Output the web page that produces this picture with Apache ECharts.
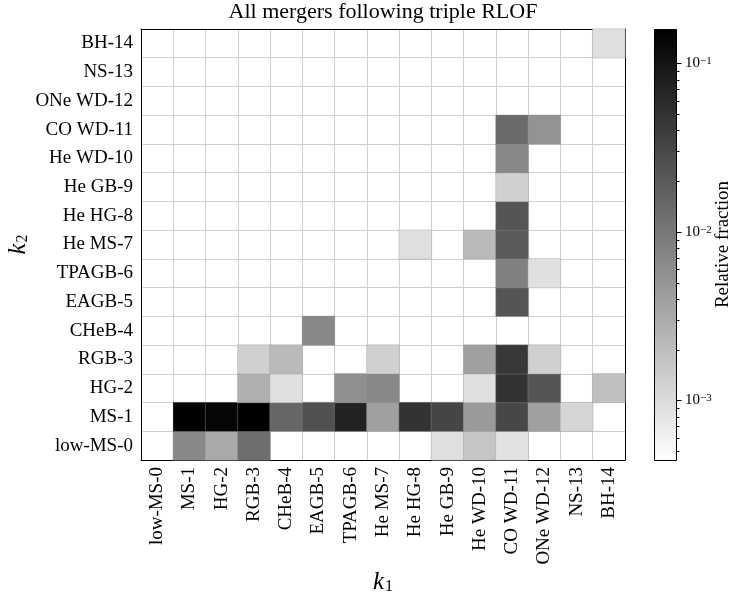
<!DOCTYPE html>
<html>
<head>
<meta charset="utf-8">
<script src="https://cdn.jsdelivr.net/npm/echarts@6/dist/echarts.min.js"></script>
<style>html,body{margin:0;padding:0;background:#fff;}#c{width:731px;height:599px;}</style>
</head>
<body>
<div id="c"></div>
<script>
const k1Labels = ['low-MS-0','MS-1','HG-2','RGB-3','CHeB-4','EAGB-5','TPAGB-6','He MS-7','He HG-8','He GB-9','He WD-10','CO WD-11','ONe WD-12','NS-13','BH-14'];
const k2Labels = ['low-MS-0','MS-1','HG-2','RGB-3','CHeB-4','EAGB-5','TPAGB-6','He MS-7','He HG-8','He GB-9','He WD-10','CO WD-11','ONe WD-12','NS-13','BH-14'];

// Relative fraction, one array per k2 row, indexed by k1 (0 = no mergers)
const row_lowMS0 = [0, 0.0069, 0.0032, 0.0126, 0, 0, 0, 0, 0, 0.00091, 0.0017, 0.00087, 0, 0, 0];
const row_MS1    = [0, 0.158, 0.140, 0.156, 0.0152, 0.0252, 0.0728, 0.0040, 0.0491, 0.0325, 0.0046, 0.0310, 0.0040, 0.00117, 0];
const row_HG2    = [0, 0, 0, 0.00275, 0.00091, 0, 0.00575, 0.0069, 0, 0, 0.00091, 0.0491, 0.0225, 0, 0.0019];
const row_RGB3   = [0, 0, 0, 0.00132, 0.0022, 0, 0, 0.00132, 0, 0, 0.0040, 0.0439, 0.00132, 0, 0];
const row_CHeB4  = [0, 0, 0, 0, 0, 0.0069, 0, 0, 0, 0, 0, 0, 0, 0, 0];
const row_EAGB5  = [0, 0, 0, 0, 0, 0, 0, 0, 0, 0, 0, 0.0225, 0, 0, 0];
const row_TPAGB6 = [0, 0, 0, 0, 0, 0, 0, 0, 0, 0, 0, 0.0083, 0.00091, 0, 0];
const row_HeMS7  = [0, 0, 0, 0, 0, 0, 0, 0, 0.00091, 0, 0.0022, 0.0200, 0, 0, 0];
const row_HeHG8  = [0, 0, 0, 0, 0, 0, 0, 0, 0, 0, 0, 0.0225, 0, 0, 0];
const row_HeGB9  = [0, 0, 0, 0, 0, 0, 0, 0, 0, 0, 0, 0.00132, 0, 0, 0];
const row_HeWD10 = [0, 0, 0, 0, 0, 0, 0, 0, 0, 0, 0, 0.0069, 0, 0, 0];
const row_COWD11 = [0, 0, 0, 0, 0, 0, 0, 0, 0, 0, 0, 0.0138, 0.0054, 0, 0];
const row_ONeWD12= [0, 0, 0, 0, 0, 0, 0, 0, 0, 0, 0, 0, 0, 0, 0];
const row_NS13   = [0, 0, 0, 0, 0, 0, 0, 0, 0, 0, 0, 0, 0, 0, 0];
const row_BH14   = [0, 0, 0, 0, 0, 0, 0, 0, 0, 0, 0, 0, 0, 0, 0.00091];

const colorMin = 4.42e-4, colorMax = 0.160;
const majorTickExps = [-3, -2, -1];
const minorMultipliers = [2, 3, 4, 5, 6, 7, 8, 9];
const minorDecades = [-4, -3, -2, -1];

const rows = [row_lowMS0,row_MS1,row_HG2,row_RGB3,row_CHeB4,row_EAGB5,row_TPAGB6,row_HeMS7,row_HeHG8,row_HeGB9,row_HeWD10,row_COWD11,row_ONeWD12,row_NS13,row_BH14];
const data = [];
rows.forEach((r, j) => r.forEach((v, i) => { if (v > 0) data.push([i, j, Math.log10(v), v]); }));

const lmin = Math.log10(colorMin), lmax = Math.log10(colorMax);
const tickData = majorTickExps.map(e => [e, 5]);
minorDecades.forEach(d => minorMultipliers.forEach(m => {
  const l = Math.log10(m * Math.pow(10, d));
  if (l > lmin && l < lmax) tickData.push([l, 3]);
}));

const FF = 'Liberation Serif';
const GL = 141, GT = 29, GW = 484, GH = 431;
const CBL = 654, CBW = 22;

const nameRich = {
  k: {fontFamily: FF, fontStyle: 'italic', fontSize: 25, verticalAlign: 'top', lineHeight: 25, color: '#000'},
  sub: {fontFamily: FF, fontSize: 16, verticalAlign: 'bottom', lineHeight: 16, padding: [14, 0, 0, 1], color: '#000'}
};

const chart = echarts.init(document.getElementById('c'), null, {renderer: 'canvas'});
chart.setOption({
  backgroundColor: '#fff',
  animation: false,
  title: {
    text: 'All mergers following triple RLOF',
    left: GL + GW / 2, top: 1, textAlign: 'center', padding: 0,
    textStyle: {fontFamily: FF, fontSize: 22, fontWeight: 'normal', color: '#000'}
  },
  grid: [
    {left: GL, top: GT, width: GW, height: GH, outerBoundsMode: 'none', containLabel: false},
    {left: CBL, top: GT, width: CBW, height: GH, outerBoundsMode: 'none', containLabel: false}
  ],
  visualMap: {
    show: false, type: 'continuous', min: lmin, max: lmax, dimension: 2, seriesIndex: 0,
    inRange: {color: ['#ffffff', '#000000']}
  },
  xAxis: [
    {
      gridIndex: 0, type: 'category', data: k1Labels, position: 'bottom',
      axisLine: {lineStyle: {color: '#000', width: 1}},
      axisTick: {alignWithLabel: true, interval: 0, length: 5, lineStyle: {color: '#000'}},
      axisLabel: {rotate: 90, interval: 0, margin: 7, fontFamily: FF, fontSize: 19, color: '#000'},
      splitLine: {show: true, interval: 0, lineStyle: {color: '#cfcfcf', width: 1}},
      name: '{k|k}{sub|1}', nameLocation: 'middle', nameGap: 110, nameMoveOverlap: false,
      nameTextStyle: {rich: nameRich}
    },
    {
      gridIndex: 0, type: 'category', data: k1Labels, position: 'top',
      axisLine: {lineStyle: {color: '#000', width: 1}},
      axisTick: {alignWithLabel: true, interval: 0, length: 5, lineStyle: {color: '#000'}},
      axisLabel: {show: false}, splitLine: {show: false}
    },
    {gridIndex: 1, type: 'value', show: false, min: 0, max: 1}
  ],
  yAxis: [
    {
      gridIndex: 0, type: 'category', data: k2Labels, position: 'left',
      axisLine: {lineStyle: {color: '#000', width: 1}},
      axisTick: {alignWithLabel: true, interval: 0, length: 5, lineStyle: {color: '#000'}},
      axisLabel: {interval: 0, margin: 8, fontFamily: FF, fontSize: 19, color: '#000'},
      splitLine: {show: true, interval: 0, lineStyle: {color: '#cfcfcf', width: 1}},
      name: '{k|k}{sub|2}', nameLocation: 'middle', nameGap: 110, nameRotate: 90, nameMoveOverlap: false,
      nameTextStyle: {rich: nameRich}
    },
    {
      gridIndex: 0, type: 'category', data: k2Labels, position: 'right',
      axisLine: {lineStyle: {color: '#000', width: 1}},
      axisTick: {alignWithLabel: true, interval: 0, length: 5, lineStyle: {color: '#000'}},
      axisLabel: {show: false}, splitLine: {show: false}
    },
    {
      gridIndex: 1, type: 'value', position: 'right', min: lmin, max: lmax,
      axisLine: {show: false},
      axisTick: {show: false},
      axisLabel: {
        show: true, margin: 9, customValues: majorTickExps,
        formatter: v => '{b|10}{s|\u2212' + Math.round(-v) + '}',
        rich: {
          b: {fontFamily: FF, fontSize: 15, color: '#000', verticalAlign: 'bottom', lineHeight: 15, padding: [6, 0, 0, 0]},
          s: {fontFamily: FF, fontSize: 11, color: '#000', verticalAlign: 'top', lineHeight: 11}
        }
      },
      splitLine: {show: false},
      name: 'Relative fraction', nameLocation: 'middle', nameRotate: 90, nameGap: 38, nameMoveOverlap: false,
      nameTextStyle: {fontFamily: FF, fontSize: 19, color: '#000'}
    }
  ],
  graphic: [{
    type: 'rect', z: 100,
    shape: {x: CBL + 0.5, y: GT + 0.5, width: CBW, height: GH},
    style: {
      fill: new echarts.graphic.LinearGradient(0, 0, 0, 1, [{offset: 0, color: '#000000'}, {offset: 1, color: '#ffffff'}]),
      stroke: '#000', lineWidth: 1
    }
  }],
  series: [{
    type: 'heatmap', xAxisIndex: 0, yAxisIndex: 0, data: data,
    encode: {x: 0, y: 1, value: 2},
    itemStyle: {borderColor: 'rgba(150,150,150,0.35)', borderWidth: 1},
    emphasis: {disabled: true}
  }, {
    type: 'custom', xAxisIndex: 2, yAxisIndex: 2, data: tickData, clip: false, silent: true,
    encode: {y: 0},
    renderItem: (params, api) => {
      const p = api.coord([1, api.value(0)]);
      const x = Math.round(p[0]) + 0.5, y = Math.round(p[1]) + 0.5;
      return {type: 'line', shape: {x1: x, y1: y, x2: x + api.value(1), y2: y}, style: {stroke: '#000', lineWidth: 1}};
    }
  }]
});
</script>
</body>
</html>
